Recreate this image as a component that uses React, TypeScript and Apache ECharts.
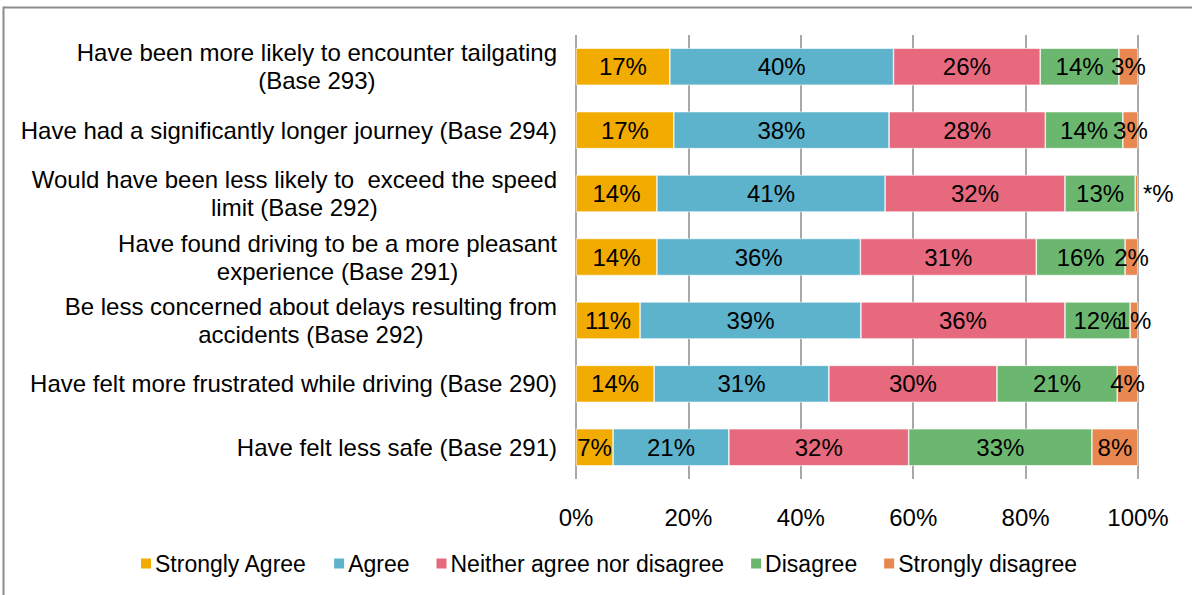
import React, { useEffect, useRef } from "react";
import * as echarts from "echarts";

const categories = [
  "Have been more likely to encounter tailgating\n(Base 293)",
  "Have had a significantly longer journey (Base 294)",
  "Would have been less likely to  exceed the speed\nlimit (Base 292)",
  "Have found driving to be a more pleasant\nexperience (Base 291)",
  "Be less concerned about delays resulting from\naccidents (Base 292)",
  "Have felt more frustrated while driving (Base 290)",
  "Have felt less safe (Base 291)",
];

const stronglyAgree = [16.7, 17.4, 14.4, 14.4, 11.4, 13.9, 6.6];
const agree = [39.8, 38.3, 40.6, 36.2, 39.3, 31.1, 20.6];
const neither = [26.1, 27.8, 32.0, 31.3, 36.3, 29.9, 32.0];
const disagree = [14.0, 13.8, 12.5, 15.8, 11.6, 21.4, 32.6];
const stronglyDisagree = [3.4, 2.7, 0.5, 2.3, 1.4, 3.7, 8.2];
const stronglyDisagreeNotes: (string | null)[] = [null, null, "*%", null, null, null, null];

const xTicks = { min: 0, max: 100, interval: 20 };

const FONT = "'Liberation Sans', Arial, sans-serif";

export default function App() {
  const ref = useRef<HTMLDivElement>(null);
  useEffect(() => {
    if (!ref.current) return;
    const chart = echarts.init(ref.current, undefined, { renderer: "svg" });
    const label = {
      show: true,
      position: "inside",
      color: "#000",
      fontSize: 24,
      fontFamily: FONT,
      formatter: (p: any) => `${Math.round(p.value)}%`,
    };
    const mk = (name: string, data: number[], color: string, notes?: (string | null)[]) => ({
      name,
      type: "bar",
      stack: "total",
      barWidth: 37,
      data: data.map((v, i) =>
        notes && notes[i]
          ? { value: v, label: { position: "right", distance: 5, formatter: notes[i] } }
          : v
      ),
      itemStyle: { color, borderColor: "#ffffff", borderWidth: 0.6 },
      label,
    });
    chart.setOption({
      animation: false,
      backgroundColor: "#fff",
      textStyle: { fontFamily: FONT },
      graphic: [
        {
          type: "rect",
          shape: { x: 3.5, y: 7.5, width: 1300, height: 700 },
          style: { fill: "none", stroke: "#8c8c8c", lineWidth: 2 },
          z: -10,
          silent: true,
        },
      ],
      grid: { left: 576, right: 54, top: 35, bottom: 116 },
      legend: {
        bottom: 15,
        left: 134,
        itemWidth: 12,
        itemHeight: 12,
        itemGap: 25,
        icon: "rect",
        textStyle: { fontSize: 23, color: "#000", fontFamily: FONT, padding: [0, 0, 0, -2] },
      },
      xAxis: {
        type: "value",
        min: xTicks.min,
        max: xTicks.max,
        interval: xTicks.interval,
        axisLine: { show: false },
        axisTick: { show: false },
        axisLabel: { formatter: "{value}%", fontSize: 24, color: "#000", margin: 26, fontFamily: FONT },
        splitLine: { show: true, lineStyle: { color: "#939393", width: 1.6 } },
      },
      yAxis: {
        type: "category",
        inverse: true,
        data: categories,
        axisLine: { show: false },
        axisTick: { show: false },
        axisLabel: {
          margin: 19,
          fontSize: 24,
          color: "#000",
          fontFamily: FONT,
          lineHeight: 28,
          formatter: (v: string) =>
            v
              .split("\n")
              .map((l) => `{c|${l}}`)
              .join("\n"),
          rich: {
            c: { align: "center", fontSize: 24, color: "#000", fontFamily: FONT, lineHeight: 28 },
          },
        },
      },
      series: [
        mk("Strongly Agree", stronglyAgree, "#F2AB00"),
        mk("Agree", agree, "#5DB2CC"),
        mk("Neither agree nor disagree", neither, "#E7697D"),
        mk("Disagree", disagree, "#6CB76F"),
        mk("Strongly disagree", stronglyDisagree, "#E98750", stronglyDisagreeNotes),
      ],
    });
    return () => chart.dispose();
  }, []);
  return (
    <div
      ref={ref}
      style={{ position: "fixed", left: 0, top: 0, width: 1192, height: 595 }}
    />
  );
}
